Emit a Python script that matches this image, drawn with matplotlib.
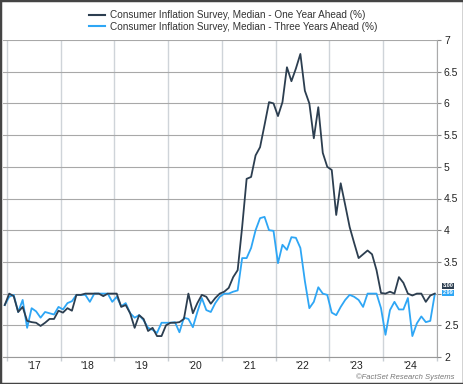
import numpy as np
import matplotlib
matplotlib.use("Agg")
import matplotlib.pyplot as plt
from matplotlib.lines import Line2D
from matplotlib.patches import Rectangle
from matplotlib.ticker import FixedLocator, NullFormatter, FixedFormatter

plt.rcParams['font.family'] = ['Liberation Sans', 'DejaVu Sans']

# monthly, Dec 2016 .. Dec 2024
start_year = 2016 + 11 / 12
one_year = [2.82,
            3.00, 2.96, 2.71, 2.79, 2.57, 2.55, 2.54, 2.49, 2.54, 2.60, 2.60, 2.73,
            2.70, 2.77, 2.73, 2.98, 2.98, 3.00, 3.00, 3.00, 3.00, 2.96, 3.00, 3.00,
            3.00, 2.79, 2.82, 2.69, 2.46, 2.66, 2.60, 2.41, 2.46, 2.33, 2.33, 2.50,
            2.54, 2.54, 2.55, 2.60, 3.00, 2.69, 2.85, 2.98, 2.95, 2.84, 2.93, 3.00,
            3.03, 3.09, 3.26, 3.37, 4.05, 4.81, 4.84, 5.18, 5.31, 5.66, 6.02, 6.00,
            5.80, 6.02, 6.57, 6.35, 6.55, 6.78, 6.20, 6.00, 5.45, 5.94, 5.22, 5.00,
            4.95, 4.24, 4.74, 4.40, 4.05, 3.80, 3.56, 3.62, 3.68, 3.62, 3.37, 3.01,
            3.00, 3.03, 3.00, 3.26, 3.17, 3.00, 2.97, 3.00, 3.00, 2.87, 2.97, 3.00]
three_years = [2.82,
               2.95, 2.98, 2.71, 2.90, 2.46, 2.77, 2.72, 2.62, 2.71, 2.69, 2.67, 2.79,
               2.75, 2.85, 2.88, 2.98, 2.98, 2.98, 2.87, 3.00, 3.00, 3.00, 3.00, 2.87,
               2.95, 2.80, 2.85, 2.69, 2.62, 2.66, 2.58, 2.46, 2.43, 2.38, 2.54, 2.54,
               2.54, 2.55, 2.39, 2.62, 2.60, 2.47, 2.71, 2.93, 2.74, 2.71, 2.85, 2.95,
               3.00, 3.00, 3.03, 3.05, 3.56, 3.56, 3.72, 4.00, 4.19, 4.21, 4.00, 3.99,
               3.48, 3.77, 3.69, 3.89, 3.88, 3.72, 3.20, 2.77, 2.87, 3.10, 3.00, 2.98,
               2.70, 2.66, 2.79, 2.90, 2.98, 2.95, 2.90, 2.79, 3.00, 3.00, 3.00, 2.77,
               2.35, 2.74, 2.87, 2.75, 2.75, 2.93, 2.33, 2.53, 2.64, 2.55, 2.57, 2.99]
labels = ["Consumer Inflation Survey, Median - One Year Ahead (%)",
          "Consumer Inflation Survey, Median - Three Years Ahead (%)"]
year_labels = ["'17", "'18", "'19", "'20", "'21", "'22", "'23", "'24"]

dark = '#2c3e50'
blue = '#2ea6f5'

t = start_year + 0.5 / 12 + np.arange(len(one_year)) / 12

fig = plt.figure(figsize=(4.64, 3.84), dpi=100)
ax = fig.add_axes([3 / 464, 1 - 357 / 384, 434 / 464, 317 / 384])

ax.plot(t, one_year, color=dark, lw=1.3, zorder=3)
ax.plot(t, three_years, color=blue, lw=1.3, zorder=2)

ax.set_xlim(2017 - 4 / 54, 2025)
ax.set_ylim(2, 7)

ax.yaxis.tick_right()
ax.set_yticks(np.arange(2, 7.01, 0.5))
# the "3" label is covered by the end-value tags
ax.set_yticklabels(['2', '2.5', '', '3.5', '4', '4.5', '5', '5.5', '6', '6.5', '7'])
ax.tick_params(axis='y', length=3, width=0.8, color='#888888', labelsize=7.5,
               labelcolor='#222222', pad=2)

ax.xaxis.set_major_locator(FixedLocator(np.arange(2017, 2026)))
ax.xaxis.set_major_formatter(NullFormatter())
ax.xaxis.set_minor_locator(FixedLocator(np.arange(2017.5, 2025, 1.0)))
ax.xaxis.set_minor_formatter(FixedFormatter(year_labels))
ax.tick_params(axis='x', which='major', length=3, color='#c8ced4', width=1)
ax.tick_params(axis='x', which='minor', length=0, labelsize=7.5,
               labelcolor='#222222', pad=3)

ax.grid(axis='x', which='major', color='#cfd4d9', lw=1.0)
ax.grid(axis='y', color='#a8a8a8', lw=0.8)
ax.set_axisbelow(True)

for s in ['top', 'left']:
    ax.spines[s].set_visible(False)
ax.spines['bottom'].set_color('#999999')
ax.spines['bottom'].set_linewidth(0.8)
ax.spines['right'].set_color('#aaaaaa')
ax.spines['right'].set_linewidth(0.8)

# end-value tags
tag_x = 2025 + 6 / 54
ax.text(tag_x, 3.125, f"{one_year[-1]:.2f}", fontsize=4.0, color='white',
        ha='left', va='center', clip_on=False, fontweight='bold',
        bbox=dict(boxstyle='square,pad=0.1', fc=dark, ec='none'))
ax.text(tag_x, 3.015, f"{three_years[-1]:.2f}", fontsize=4.0, color='white',
        ha='left', va='center', clip_on=False, fontweight='bold',
        bbox=dict(boxstyle='square,pad=0.1', fc=blue, ec='none'))

handles = [Line2D([], [], color=dark, lw=1.5), Line2D([], [], color=blue, lw=1.5)]
fig.legend(handles, labels, loc='upper left', bbox_to_anchor=(89 / 464, 1 - 10 / 384),
           frameon=False, fontsize=7.2, handlelength=1.6, handletextpad=0.5,
           borderpad=0, borderaxespad=0, labelspacing=0.15, labelcolor='#333333')

fig.text(455 / 464, 1 - 377 / 384, "\u00a9FactSet Research Systems", fontsize=5.5,
         style='italic', color='#777777', ha='right', va='center')

fig.patches.append(Rectangle((0, 0), 1, 1, transform=fig.transFigure, fill=False,
                             ec='#444444', lw=2.5))

fig.savefig("out.png", dpi=100)
